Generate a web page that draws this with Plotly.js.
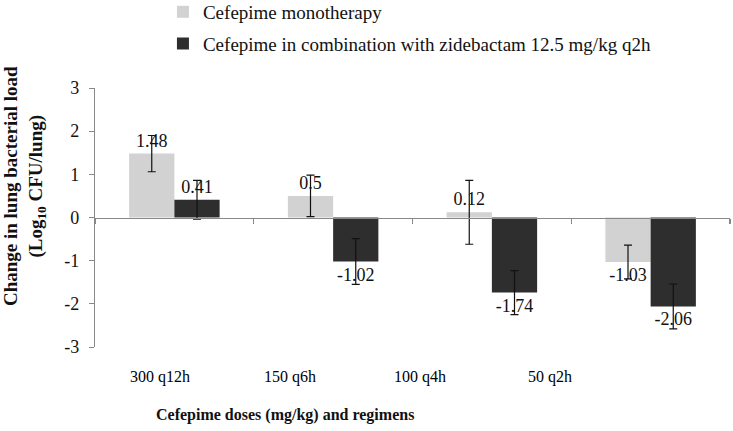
<!DOCTYPE html>
<html><head><meta charset="utf-8">
<script src="https://cdn.plot.ly/plotly-3.0.1.min.js"></script>
<style>html,body{margin:0;padding:0;background:#fff}</style>
</head><body><div id="chart" style="width:733px;height:431px"></div>
<script>
const categories = ["300 q12h", "150 q6h", "100 q4h", "50 q2h"];
const monoValues = [1.48, 0.5, 0.12, -1.03];
const monoErrors = [0.42, 0.48, 0.74, 0.39];
const comboValues = [0.41, -1.02, -1.74, -2.06];
const comboErrors = [0.45, 0.53, 0.51, 0.52];
const seriesNames = ["Cefepime monotherapy", "Cefepime in combination with zidebactam 12.5 mg/kg q2h"];
const yTicks = [-3, -2, -1, 0, 1, 2, 3];
const yTickLabels = ["-3", "-2", "-1", "0", "1", "2", "3"];

const serif = "Liberation Serif";
const errStyle = {type: "data", visible: true, color: "#111", thickness: 1.2, width: 4};
const n = categories.length;
const idx = categories.map((c, i) => i);

const traces = [
  {type: "bar", name: seriesNames[0], x: categories, y: monoValues,
   marker: {color: "#d2d2d2"}, legendgroup: "a",
   error_y: Object.assign({array: monoErrors}, errStyle),
   text: monoValues.map(String), textposition: "outside", cliponaxis: false,
   textfont: {family: serif, size: 18, color: "#111"}},
  {type: "bar", name: seriesNames[1], x: categories, y: comboValues,
   marker: {color: "#2e2e2e"}, legendgroup: "b",
   error_y: Object.assign({array: comboErrors}, errStyle),
   text: comboValues.map(String), textposition: "outside", cliponaxis: false,
   textfont: {family: serif, size: 18, color: "#111"}},
  {type: "scatter", mode: "none", x: idx, y: monoValues, xaxis: "x2", yaxis: "y",
   showlegend: false, hoverinfo: "skip"},
  {type: "scatter", mode: "none", x: idx, y: monoValues, xaxis: "x3", yaxis: "y",
   showlegend: false, hoverinfo: "skip"}
];

const layout = {
  width: 733, height: 431,
  margin: {l: 95, r: 3, t: 88, b: 84, autoexpand: false},
  paper_bgcolor: "#fff", plot_bgcolor: "#fff",
  font: {family: serif, size: 18, color: "#000"},
  barmode: "group", bargap: 0.43, bargroupgap: 0,
  showlegend: true,
  legend: {x: 0.107, xanchor: "left", y: 1.367, yanchor: "top",
           orientation: "v", tracegroupgap: 4, itemwidth: 30,
           font: {family: serif, size: 19, color: "#111"}, bgcolor: "rgba(0,0,0,0)"},
  xaxis: {type: "category", showline: false, ticks: "", showticklabels: false,
          showgrid: false, zeroline: false},
  xaxis2: {overlaying: "x", anchor: "free", position: 0.5, range: [-0.5, n - 0.5],
           showline: true, linecolor: "#888", linewidth: 1.2,
           ticks: "outside", ticklen: 5, tickcolor: "#888", tickwidth: 1.2,
           tickvals: Array.from({length: n + 1}, (_, i) => i - 0.5), showticklabels: false,
           showgrid: false, zeroline: false},
  xaxis3: {overlaying: "x", anchor: "y", side: "bottom", range: [-0.5, 4.385],
           tickvals: idx, ticktext: categories,
           showline: false, ticks: "", showgrid: false, zeroline: false,
           ticklabelstandoff: 18, tickfont: {family: serif, size: 16, color: "#000"}},
  yaxis: {range: [-3, 3], tickvals: yTicks, ticktext: yTickLabels, ticks: "outside", ticklen: 5, tickcolor: "#888",
          showline: true, linecolor: "#888", linewidth: 1.2, showgrid: false, zeroline: false,
          ticklabelstandoff: 6,
          tickfont: {family: serif, size: 18, color: "#111"}},
  annotations: [
    {text: "<b>Change in lung bacterial load</b><br><b>(Log<sub>10</sub> CFU/lung)</b>",
     xref: "paper", yref: "paper", x: -0.11, y: 0.622, xanchor: "center", yanchor: "middle",
     textangle: -90, showarrow: false, font: {family: serif, size: 19, color: "#111"}},
    {text: "<b>Cefepime doses (mg/kg) and regimens</b>", xref: "paper", yref: "paper",
     x: 0.299, y: -0.263, xanchor: "center", yanchor: "middle", showarrow: false,
     font: {family: serif, size: 16, color: "#111"}}
  ]
};

Plotly.newPlot("chart", traces, layout, {displayModeBar: false, staticPlot: true});
</script></body></html>
